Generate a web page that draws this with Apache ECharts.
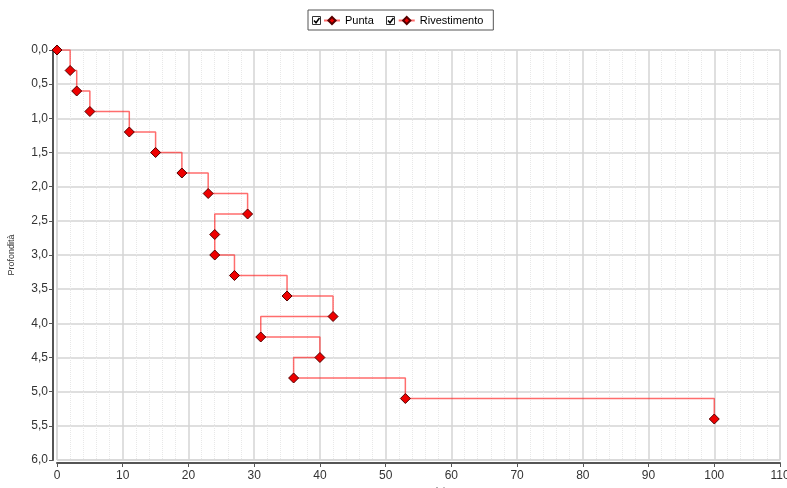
<!DOCTYPE html>
<html><head><meta charset="utf-8">
<script src="https://cdn.jsdelivr.net/npm/echarts@6/dist/echarts.min.js"></script>
<style>html,body{margin:0;padding:0;background:#fff}#c{width:787px;height:488px}</style>
</head><body><div id="c"></div>
<script>
const seriesNames = ['Punta', 'Rivestimento'];
const puntaColpi = [0, 2, 3, 5, 11, 15, 19, 23, 29, 24, 24, 27, 35, 42, 31, 40, 36, 53, 100];
const puntaProf = [0.0, 0.3, 0.6, 0.9, 1.2, 1.5, 1.8, 2.1, 2.4, 2.7, 3.0, 3.3, 3.6, 3.9, 4.2, 4.5, 4.8, 5.1, 5.4];
const rivestimentoColpi = [];
const rivestimentoProf = [];
const xTicks = {min: 0, max: 110, interval: 10};
const yTicks = {min: 0, max: 6, interval: 0.5};

const chart = echarts.init(document.getElementById('c'), null, {renderer: 'canvas'});
const ff = 'Liberation Sans, Arial, sans-serif';
const mk = (name, xs, ys) => ({
  name: name, type: 'line', step: 'end',
  data: xs.map((x, i) => [x, ys[i]]),
  symbol: 'diamond', symbolSize: 10,
  itemStyle: {color: '#ee0000', borderColor: '#550000', borderWidth: 1},
  lineStyle: {color: 'rgba(255,30,30,0.65)', width: 1.5},
  emphasis: {disabled: true}, animation: false
});
function check(x, y) {
  return [
    {type: 'rect', shape: {x: x, y: y, width: 8, height: 8}, style: {fill: '#fff', stroke: '#333', lineWidth: 1}},
    {type: 'polyline', shape: {points: [[x + 1.5, y + 4], [x + 3.5, y + 6.2], [x + 7, y + 1.5]]}, style: {fill: null, stroke: '#000', lineWidth: 1.5}}
  ];
}
chart.setOption({
  backgroundColor: '#fff',
  animation: false,
  legend: {
    data: seriesNames, left: 308, top: 10,
    padding: [5, 10, 4, 15], itemGap: 24, itemWidth: 16, itemHeight: 9,
    borderColor: '#555', borderWidth: 1,
    textStyle: {fontFamily: ff, fontSize: 11, color: '#000'},
    selectedMode: false
  },
  graphic: check(312.5, 16.5).concat(check(386.5, 16.5)),
  grid: {left: 57, right: 7, top: 50, bottom: 28, outerBoundsMode: 'none', containLabel: false,
    show: true, borderColor: '#cccccc', borderWidth: 1},
  xAxis: {
    type: 'value', min: xTicks.min, max: xTicks.max, interval: xTicks.interval,
    offset: 3, name: 'Numero colpi', nameLocation: 'middle', nameGap: 23,
    nameTextStyle: {fontFamily: ff, fontSize: 9, color: '#333'},
    axisLine: {show: true, onZero: false, lineStyle: {color: '#555', width: 2}},
    axisTick: {show: true, length: 4, lineStyle: {color: '#555'}},
    axisLabel: {fontFamily: ff, fontSize: 12, color: '#333', margin: 7, hideOverlap: false, showMaxLabel: true},
    splitLine: {show: true, lineStyle: {color: '#d4d4d4', width: 1.5}},
    minorTick: {show: false, splitNumber: 5},
    minorSplitLine: {show: true, lineStyle: {color: '#e8e8e8', width: 1, type: 'dotted'}}
  },
  yAxis: {
    type: 'value', inverse: true, min: yTicks.min, max: yTicks.max, interval: yTicks.interval,
    offset: 4, name: 'Profondità', nameLocation: 'middle', nameGap: 37,
    nameTextStyle: {fontFamily: ff, fontSize: 9, color: '#333'},
    axisLine: {show: true, onZero: false, lineStyle: {color: '#555', width: 2}},
    axisTick: {show: true, length: 4, lineStyle: {color: '#555'}},
    axisLabel: {fontFamily: ff, fontSize: 12, color: '#333', margin: 5,
      formatter: v => v.toFixed(1).replace('.', ',')},
    splitLine: {show: true, lineStyle: {color: '#d4d4d4', width: 1.5}}
  },
  series: [mk(seriesNames[0], puntaColpi, puntaProf), mk(seriesNames[1], rivestimentoColpi, rivestimentoProf)]
});
</script></body></html>
